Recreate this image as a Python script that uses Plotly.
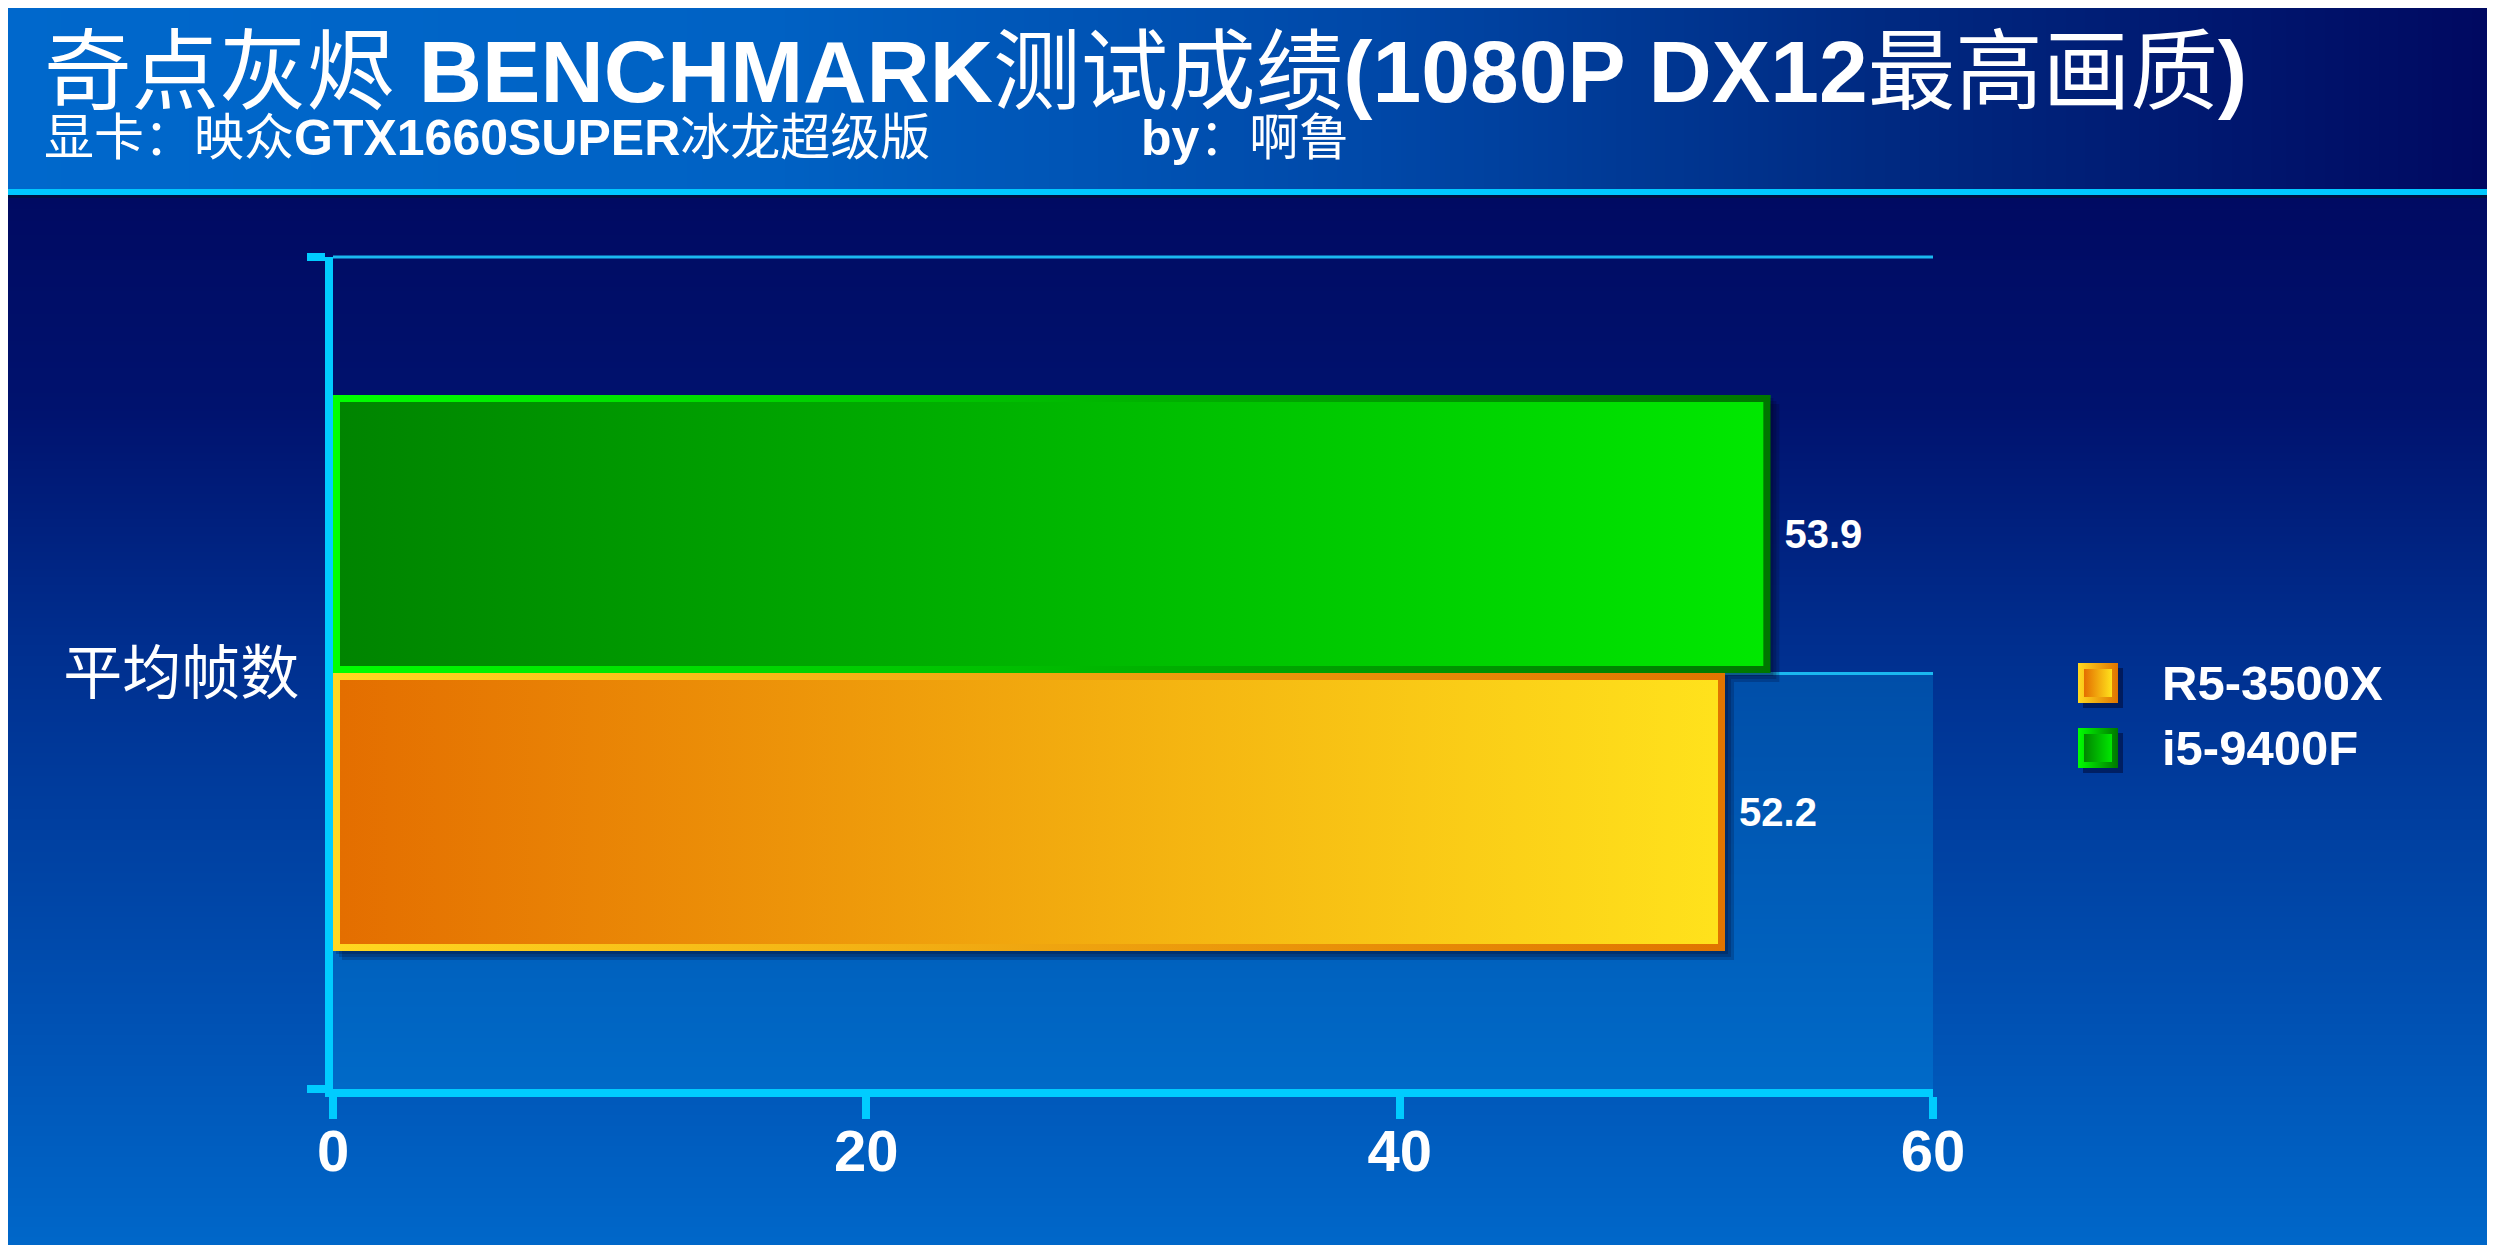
import base64
import struct
import zlib

import numpy as np
import plotly.graph_objects as go

# ---------------- data ----------------
CATEGORIES = ["平均帧数"]
SERIES = ["R5-3500X", "i5-9400F"]
R5_3500X_VALUES = [52.2]
I5_9400F_VALUES = [53.9]
X_RANGE = [0, 60]
X_TICKS = [0, 20, 40, 60]
TITLE = "奇点灰烬 <b>BENCHMARK</b>测试成绩<b>(1080P DX12</b>最高画质<b>)</b>"
SUBTITLE = "显卡：映众<b>GTX1660SUPER</b>冰龙超级版"
AUTHOR = "<b>by</b>：啊鲁"

SERIES_VALUES = {"R5-3500X": R5_3500X_VALUES, "i5-9400F": I5_9400F_VALUES}

# ---------------- style ----------------
W, H = 2495, 1245
OFF = 8  # page body margin: screen px = figure px + OFF
PLOT_L, PLOT_R, PLOT_T, PLOT_B = 333, 1933, 257, 1089   # screen px
CYAN = "#00ccff"
GRID = "#1ab8f0"
LATIN = "Liberation Sans, Arial, Noto Sans CJK SC, sans-serif"
CJK = "Noto Sans CJK SC, Liberation Sans, sans-serif"
BARGAP = 0.332
BORDER_PX = 7
STYLE = {
    "R5-3500X": dict(fill=("#e46e00", "#ffe21c"), border=("#ffd820", "#e07400"), mid="#f0a010"),
    "i5-9400F": dict(fill=("#008400", "#00e800"), border=("#00ff00", "#007600"), mid="#00b000"),
}
LEGEND_X = 2098
LEGEND_Y = [683, 748]
LEGEND_TEXT_X = 2160


def px_x(p):
    return (p - OFF) / W


def px_y(p):
    return 1 - (p - OFF) / H


def hex2rgb(h):
    h = h.lstrip("#")
    return [int(h[i:i + 2], 16) for i in (0, 2, 4)]


def gradient(stops, n):
    pos = np.array([s[0] for s in stops], float)
    cols = np.array([hex2rgb(s[1]) for s in stops], float)
    t = np.linspace(0, 1, n)
    return np.stack([np.interp(t, pos, cols[:, k]) for k in range(3)], axis=1).round().astype(np.uint8)


def png_uri(arr):
    h, w, _ = arr.shape
    raw = b"".join(b"\x00" + arr[i].tobytes() for i in range(h))

    def chunk(tag, data):
        return struct.pack(">I", len(data)) + tag + data + struct.pack(">I", zlib.crc32(tag + data) & 0xFFFFFFFF)

    png = (b"\x89PNG\r\n\x1a\n"
           + chunk(b"IHDR", struct.pack(">IIBBBBB", w, h, 8, 2, 0, 0, 0))
           + chunk(b"IDAT", zlib.compress(raw, 9))
           + chunk(b"IEND", b""))
    return "data:image/png;base64," + base64.b64encode(png).decode()


# background pieces
band = gradient([(0, "#0068cc"), (0.3, "#0062c4"), (0.55, "#0048a8"), (0.75, "#002a82"), (1.0, "#000860")], 512)
band_img = png_uri(np.repeat(band[None, :, :], 2, axis=0))
lower = gradient([(0, "#000a62"), (0.2, "#00126e"), (0.42, "#002e8e"), (0.77, "#0050b2"), (1.0, "#0068ca")], 512)
lower_img = png_uri(np.repeat(lower[:, None, :], 2, axis=1))
floor = gradient([(0, "#004ea8"), (1.0, "#006ac8")], 256)
floor_img = png_uri(np.repeat(floor[:, None, :], 2, axis=1))

BAND_BOTTOM = 193  # screen px

# unit conversions (pixel -> data)
x_per_px = (X_RANGE[1] - X_RANGE[0]) / (PLOT_R - PLOT_L)
y_per_px = 1.0 / (PLOT_B - PLOT_T)
bar_w = (1 - BARGAP) / len(SERIES)


def rect(x0, x1, y0, y1):
    return [x0, x1, x1, x0, x0], [y0, y0, y1, y1, y0]


fig = go.Figure()

geom = []
for i, name in enumerate(SERIES):
    vals = SERIES_VALUES[name]
    off = -0.5 * (1 - BARGAP) + i * bar_w
    fig.add_trace(go.Bar(
        x=vals, y=list(range(len(CATEGORIES))), orientation="h",
        width=[bar_w] * len(vals), offset=[off] * len(vals),
        marker=dict(color=STYLE[name]["mid"], line=dict(width=0)),
        text=[f"\u00a0{v:.1f}" for v in vals], textposition="outside",
        textfont=dict(family=LATIN, size=40, color="white", weight="bold"),
        cliponaxis=False, name=name, showlegend=False, hoverinfo="x+name",
    ))
    for c, v in enumerate(vals):
        geom.append((name, c + off, c + off + bar_w, v))

# soft drop shadows
for name, y0, y1, v in geom:
    for k in (3, 6, 9):
        xs, ys = rect(k * x_per_px, v + k * x_per_px, y0 - k * y_per_px, y1 - k * y_per_px)
        fig.add_trace(go.Scatter(x=xs, y=ys, mode="lines", fill="toself",
                                 fillcolor="rgba(0,0,30,0.2)", line=dict(width=0, color="rgba(0,0,0,0)"),
                                 hoverinfo="skip", showlegend=False))

# gradient bar bodies
for name, y0, y1, v in geom:
    st = STYLE[name]
    xs, ys = rect(0, v, y0, y1)
    fig.add_trace(go.Scatter(x=xs, y=ys, mode="lines", fill="toself",
                             fillgradient=dict(type="horizontal",
                                               colorscale=[[0, st["border"][0]], [1, st["border"][1]]]),
                             line=dict(width=0, color="rgba(0,0,0,0)"),
                             hoverinfo="skip", showlegend=False))
    bx, by = BORDER_PX * x_per_px, BORDER_PX * y_per_px
    xs, ys = rect(bx, v - bx, y0 + by, y1 - by)
    fig.add_trace(go.Scatter(x=xs, y=ys, mode="lines", fill="toself",
                             fillgradient=dict(type="horizontal",
                                               colorscale=[[0, st["fill"][0]], [1, st["fill"][1]]]),
                             line=dict(width=0, color="rgba(0,0,0,0)"),
                             hoverinfo="skip", showlegend=False))

# custom legend (big gradient squares) on a screen-pixel overlay axis
annotations = []
for name, ly in zip(SERIES, LEGEND_Y):
    st = STYLE[name]
    fig.add_trace(go.Scatter(x=[LEGEND_X + 5], y=[ly + 5], mode="markers", xaxis="x2", yaxis="y2",
                             marker=dict(symbol="square", size=40, color="rgba(0,0,30,0.45)", line=dict(width=0)),
                             hoverinfo="skip", showlegend=False))
    fig.add_trace(go.Scatter(x=[LEGEND_X], y=[ly], mode="markers", xaxis="x2", yaxis="y2",
                             marker=dict(symbol="square", size=40, color=st["border"][0],
                                         gradient=dict(type="horizontal", color=st["border"][1]),
                                         line=dict(width=0)),
                             hoverinfo="skip", showlegend=False))
    fig.add_trace(go.Scatter(x=[LEGEND_X], y=[ly], mode="markers", xaxis="x2", yaxis="y2",
                             marker=dict(symbol="square", size=28, color=st["fill"][0],
                                         gradient=dict(type="horizontal", color=st["fill"][1]),
                                         line=dict(width=0)),
                             hoverinfo="name", name=name, showlegend=False))
    annotations.append(dict(text=name, x=px_x(LEGEND_TEXT_X), y=px_y(ly), xref="paper", yref="paper",
                            xanchor="left", yanchor="middle", showarrow=False,
                            font=dict(family=LATIN, size=49, color="white", weight="bold")))

annotations += [
    dict(text=TITLE, x=px_x(42), y=px_y(72), xref="paper", yref="paper", xanchor="left", yanchor="middle",
         showarrow=False, font=dict(family=LATIN, size=87.6, color="white")),
    dict(text=SUBTITLE, x=px_x(42), y=px_y(138), xref="paper", yref="paper", xanchor="left", yanchor="middle",
         showarrow=False, font=dict(family=LATIN, size=50, color="white")),
    dict(text=AUTHOR, x=px_x(1139), y=px_y(138), xref="paper", yref="paper", xanchor="left", yanchor="middle",
         showarrow=False, font=dict(family=LATIN, size=50, color="white")),
]

LEFT_EDGE, RIGHT_EDGE = px_x(0), px_x(W + OFF)
images = [
    dict(source=band_img, xref="paper", yref="paper", x=LEFT_EDGE, y=px_y(0), sizex=RIGHT_EDGE - LEFT_EDGE,
         sizey=px_y(0) - px_y(BAND_BOTTOM), xanchor="left", yanchor="top", sizing="stretch", layer="below"),
    dict(source=lower_img, xref="paper", yref="paper", x=LEFT_EDGE, y=px_y(BAND_BOTTOM),
         sizex=RIGHT_EDGE - LEFT_EDGE, sizey=px_y(BAND_BOTTOM) - px_y(H + OFF),
         xanchor="left", yanchor="top", sizing="stretch", layer="below"),
    dict(source=floor_img, xref="x", yref="y", x=X_RANGE[0], y=0, sizex=X_RANGE[1] - X_RANGE[0], sizey=0.5,
         xanchor="left", yanchor="top", sizing="stretch", layer="below"),
]

shapes = [
    dict(type="rect", xref="paper", yref="paper", x0=LEFT_EDGE, x1=RIGHT_EDGE, y0=px_y(189), y1=px_y(195),
         fillcolor="#00c8ff", line=dict(width=0), layer="below"),
    dict(type="rect", xref="paper", yref="paper", x0=LEFT_EDGE, x1=RIGHT_EDGE, y0=px_y(195), y1=px_y(198),
         fillcolor="#001040", line=dict(width=0), layer="below"),
    dict(type="rect", xref="paper", yref="paper", x0=LEFT_EDGE, x1=px_x(2), y0=px_y(H + OFF), y1=px_y(198),
         fillcolor="#30c8ff", line=dict(width=0), layer="below"),
    dict(type="line", xref="x", yref="y domain", x0=X_RANGE[0], x1=X_RANGE[1], y0=1, y1=1,
         line=dict(color=GRID, width=3)),
]

fig.update_layout(
    width=W, height=H, margin=dict(l=0, r=0, t=0, b=0, pad=0, autoexpand=False),
    paper_bgcolor="#001a70", plot_bgcolor="rgba(0,0,0,0)",
    barmode="overlay", showlegend=False,
    images=images, shapes=shapes, annotations=annotations,
    xaxis=dict(domain=[px_x(PLOT_L), px_x(PLOT_R)], range=X_RANGE, tickvals=X_TICKS,
               ticks="outside", ticklen=22, tickwidth=8, tickcolor=CYAN,
               showline=True, linecolor=CYAN, linewidth=8, showgrid=False, zeroline=False,
               tickfont=dict(family=LATIN, size=58, color="white", weight="bold"),
               ticklabelstandoff=-18, automargin=False, fixedrange=True, anchor="y"),
    yaxis=dict(domain=[px_y(PLOT_B), px_y(PLOT_T)], range=[-0.5, len(CATEGORIES) - 0.5],
               tickvals=list(range(len(CATEGORIES))), ticktext=CATEGORIES, ticks="",
               showline=True, linecolor=CYAN, linewidth=8,
               showgrid=True, gridcolor=GRID, gridwidth=3, zeroline=False,
               minor=dict(tickvals=[-0.5, len(CATEGORIES) - 0.5], ticks="outside", ticklen=18,
                          tickwidth=8, tickcolor=CYAN, showgrid=False),
               tickfont=dict(family=CJK, size=59, color="white"),
               ticklabelstandoff=14, automargin=False, fixedrange=True, anchor="x"),
    xaxis2=dict(domain=[0, 1], range=[OFF, W + OFF], visible=False, anchor="y2", automargin=False,
                fixedrange=True),
    yaxis2=dict(domain=[0, 1], range=[H + OFF, OFF], visible=False, anchor="x2", automargin=False,
                fixedrange=True),
)

fig.write_html("out.html")
